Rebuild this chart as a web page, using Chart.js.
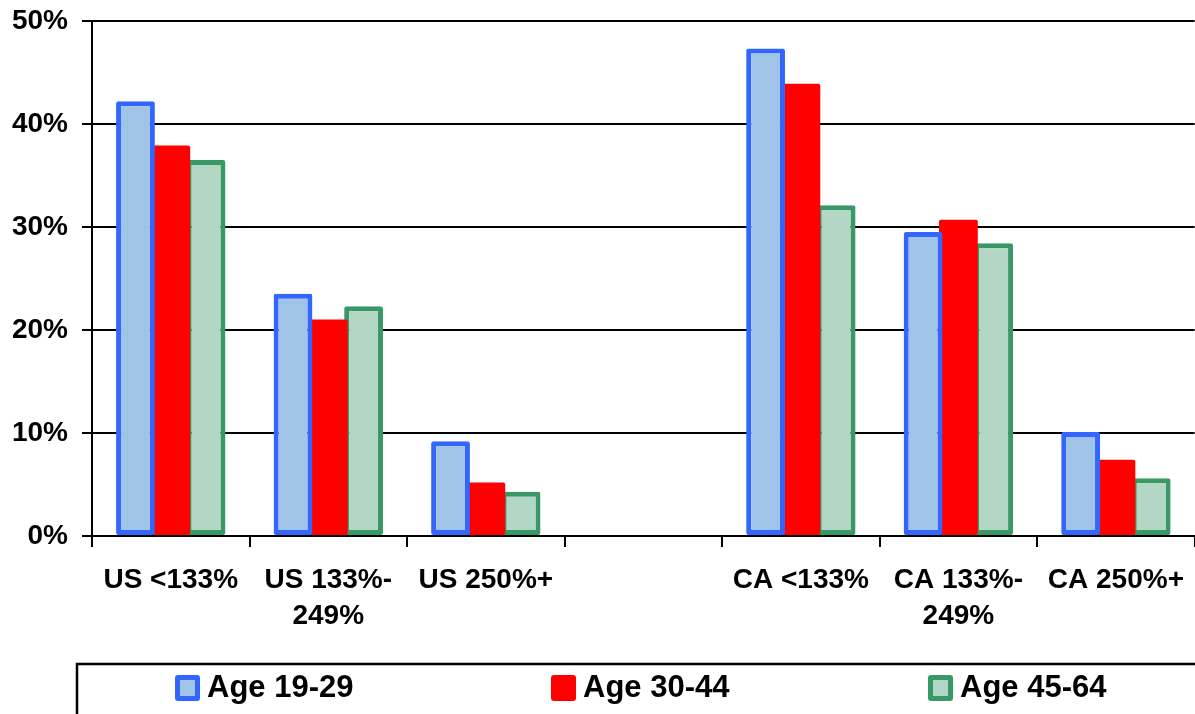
<!DOCTYPE html>
<html>
<head>
<meta charset="utf-8">
<script src="https://cdn.jsdelivr.net/npm/chart.js@4/dist/chart.umd.min.js"></script>
<style>
  html, body { margin: 0; padding: 0; background: #ffffff; }
  #wrap { position: relative; width: 1195px; height: 714px; overflow: hidden; }
  canvas { display: block; position: absolute; left: 0; top: -10px; }
</style>
</head>
<body>
<div id="wrap"><canvas id="chart" width="1199" height="724"></canvas></div>
<script>
// Income groups (share of federal poverty level); the blank slot separates US from CA
const categories = [
  ["US <133%"], ["US 133%-", "249%"], ["US 250%+"], "",
  ["CA <133%"], ["CA 133%-", "249%"], ["CA 250%+"]
];
const seriesNames = ["Age 19-29", "Age 30-44", "Age 45-64"];
const age19to29 = [42.2, 23.5, 9.2, null, 47.3, 29.5, 10.1];
const age30to44 = [37.9, 21.0, 5.2, null, 43.9, 30.7, 7.4];
const age45to64 = [36.5, 22.3, 4.3, null, 32.1, 28.4, 5.6];
const yTicks = [0, 10, 20, 30, 40, 50];

const fills   = ["#A0C4E8", "#FF0000", "#B3D7C5"];
const borders = ["#3366FF", "#FF0000", "#389966"];
const borderWidths = [5, 0, 5];
const FONT = '"Liberation Sans", Arial, sans-serif';

const seriesValues = [age19to29, age30to44, age45to64];
const datasets = seriesNames.map((name, i) => ({
  label: name,
  data: seriesValues[i],
  backgroundColor: fills[i],
  borderColor: borders[i],
  borderWidth: borderWidths[i],
  borderSkipped: false,
  borderRadius: 2,
  barPercentage: 1.1,
  categoryPercentage: 0.672
}));

// Framed legend strip along the bottom edge (canvas sits 10px above the page top)
const boxLegend = {
  id: 'boxLegend',
  afterDraw(chart) {
    const ctx = chart.ctx;
    const dy = 10;
    ctx.save();
    ctx.strokeStyle = '#000';
    ctx.lineWidth = 2.5;
    ctx.strokeRect(77, 664 + dy, 1200, 80);
    const xs = [175, 551, 928];
    ctx.font = 'bold 31px ' + FONT;
    ctx.textBaseline = 'alphabetic';
    chart.data.datasets.forEach((ds, i) => {
      const x = xs[i], y = 675 + dy;
      ctx.fillStyle = ds.borderColor;
      ctx.beginPath();
      ctx.roundRect(x, y, 25, 26, 3);
      ctx.fill();
      ctx.fillStyle = ds.backgroundColor;
      ctx.fillRect(x + 5, y + 5, 15, 16);
      ctx.fillStyle = '#000';
      ctx.fillText(ds.label, x + 32, 697 + dy);
    });
    ctx.restore();
  }
};

new Chart(document.getElementById('chart'), {
  type: 'bar',
  data: { labels: categories, datasets },
  plugins: [boxLegend],
  options: {
    responsive: false,
    animation: false,
    layout: { padding: { top: 10, right: 0, left: 0, bottom: 0 } },
    plugins: { legend: { display: false }, tooltip: { enabled: false } },
    scales: {
      x: {
        offset: true,
        grid: {
          offset: true,
          drawOnChartArea: false,
          drawTicks: true,
          tickLength: 11,
          color: '#000',
          lineWidth: 2
        },
        border: { display: true, color: '#000', width: 2 },
        ticks: {
          color: '#000',
          font: { family: FONT, size: 28, weight: 'bold', lineHeight: 1.3 },
          padding: 15,
          maxRotation: 0,
          autoSkip: false
        },
        afterFit(scale) { scale.height = 178; }
      },
      y: {
        min: 0,
        max: 50,
        afterBuildTicks(scale) { scale.ticks = yTicks.map(v => ({ value: v })); },
        grid: {
          color: '#000',
          lineWidth: 2,
          drawTicks: true,
          tickLength: 10
        },
        border: { display: true, color: '#000', width: 2 },
        ticks: {
          color: '#000',
          font: { family: FONT, size: 28, weight: 'bold' },
          padding: 14,
          callback: v => v + '%'
        },
        afterFit(scale) { scale.width = 92; }
      }
    }
  }
});
</script>
</body>
</html>
